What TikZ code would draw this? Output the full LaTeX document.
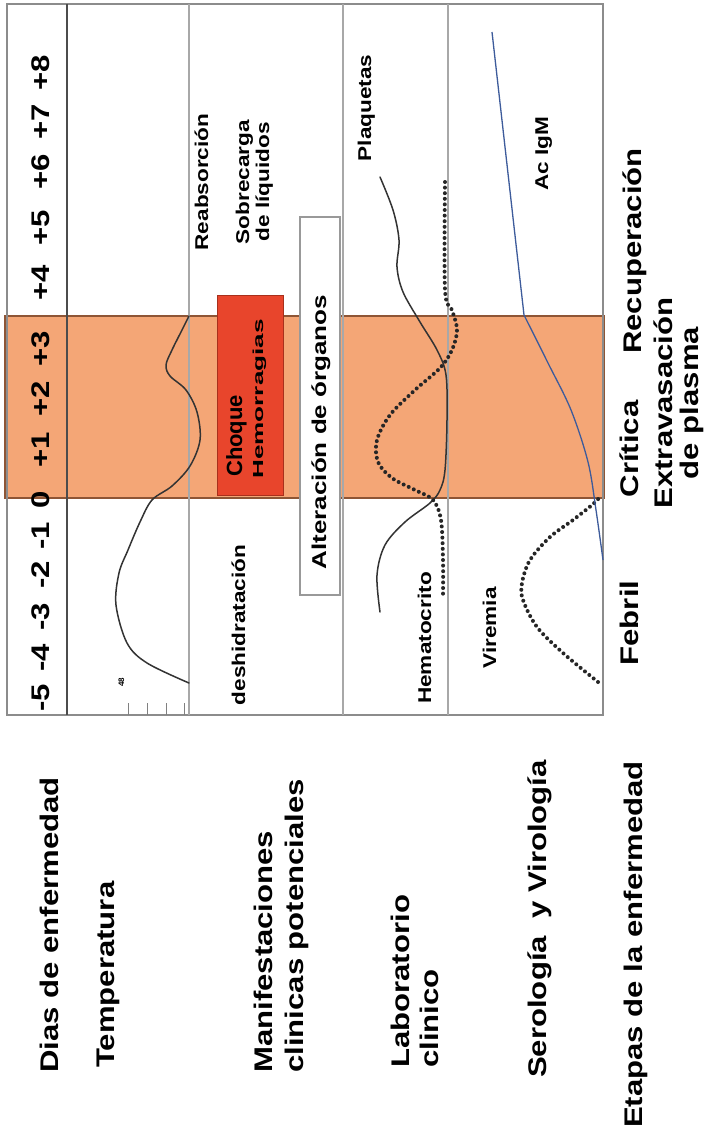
\documentclass[tikz,border=0pt]{standalone}
\usepackage{fontspec}
\setmainfont{Liberation Sans}
\newcommand{\stx}[2]{\scalebox{#1}[1]{#2}}
\definecolor{bandor}{HTML}{F4A676}
\definecolor{bandedge}{HTML}{8E5535}
\definecolor{redbox}{HTML}{E8452C}
\definecolor{rededge}{HTML}{A8301C}
\definecolor{igm}{HTML}{3D5B9B}
\definecolor{colline}{HTML}{A8A8A8}
\definecolor{curvec}{HTML}{333333}
\begin{document}
\begin{tikzpicture}[x=1pt,y=-1pt,
  big/.style={rotate=90, inner sep=0pt, font=\bfseries\fontsize{25.5}{27}\selectfont},
  small/.style={rotate=90, inner sep=0pt, font=\bfseries\fontsize{18.5}{20}\selectfont},
  colsep/.style={draw=colline, line width=1.2pt},
  curve/.style={draw=curvec, line width=1.5pt, line cap=round},
  dots/.style={draw=black!85, line width=4pt, line cap=round, dash pattern=on 0pt off 5.6pt},
  tick/.style={draw=gray, line width=1pt}]
\useasboundingbox (0,0) rectangle (705,1132);
\fill[white] (0,0) rectangle (705,1132);

% orange band
\filldraw[fill=bandor, draw=bandedge, line width=1.2pt] (5,316) rectangle (604,498);

% frame and column separators
\draw[draw=gray!90, line width=1.6pt] (7,4) rectangle (603,715);
\draw[draw=gray!60!black, line width=1.4pt] (67,4) -- (67,715);
\draw[colsep] (189,4) -- (189,715);
\draw[colsep] (343,4) -- (343,715);
\draw[colsep] (448,4) -- (448,715);

% ticks
\foreach \tx in {128,147,166,184} \draw[tick] (\tx,703) -- (\tx,715);

% boxes
\node[draw=rededge, fill=redbox, line width=1pt, minimum width=66pt, minimum height=200pt, inner sep=0pt] (shock) at (250,395) {};
\node[draw=gray!80, fill=white, line width=1.2pt, minimum width=40pt, minimum height=378pt, inner sep=0pt] (organ) at (320,406) {};

% temperature curve
\draw[curve] plot[smooth, tension=0.55] coordinates {(189,683) (147,663) (127,643) (116,605) (119,573) (128,550) (140,522) (152,500) (172,486) (190,466) (200,440) (197,412) (186,390) (170,376) (166,365) (172,350) (182,330) (189,316)};

% plaquetas
\draw[curve] plot[smooth, tension=0.55] coordinates {(380,177) (393,210) (399,240) (397,267) (403,292) (420,322) (437,350) (446,375) (447,420) (445,470) (440,490) (430,503) (405,522) (385,545) (377,575) (380,612)};

% hematocrito (dotted)
\draw[dots] plot[smooth, tension=0.55] coordinates {(445,182) (445,290) (452,310) (457,330) (452,350) (440,368) (415,390) (390,415) (377,440) (378,462) (392,478) (415,490) (433,500) (441,520) (443,560) (443,595)};

% viremia (dotted)
\draw[dots] plot[smooth, tension=0.55] coordinates {(598,682) (563,653) (537,627) (523,600) (522,583) (530,560) (550,537) (573,520) (592,505) (600,497)};

% IgM
\draw[draw=igm, line width=1.3pt] (492,32) -- plot[smooth, tension=0.55] coordinates {(524,315) (548,363) (571,410) (588,462) (596,510) (603,560)};

% day numbers
\foreach \d/\yy [count=\i] in {-5/698,-4/658,-3/617,-2/575,-1/536,0/500,+1/450,+2/399,+3/349,+4/283,+5/228,+6/172,+7/122,+8/73}
  \node[big, anchor=base] (day\i) at (49,\yy) {\stx{1.22}{\d}};

% row titles
\node[big, anchor=base west] (tdias) at (58,1073) {\stx{1.22}{Dias de enfermedad}};
\node[big, anchor=base west] (ttemp) at (114,1068) {\stx{1.22}{Temperatura}};
\node[big, anchor=base west] (tman1) at (272,1073) {\stx{1.22}{Manifestaciones}};
\node[big, anchor=base west] (tman2) at (303,1073) {\stx{1.22}{clinicas potenciales}};
\node[big, anchor=base west] (tlab1) at (409,1068) {\stx{1.22}{Laboratorio}};
\node[big, anchor=base west] (tlab2) at (438,1068) {\stx{1.22}{clinico}};
\node[big, anchor=base west] (tsero) at (546,1078) {\stx{1.22}{Serología\ \ y Virología}};
\node[big, anchor=base west] (teta) at (642,1128) {\stx{1.22}{Etapas de la enfermedad}};

% stages
\node[big, anchor=base] (sfeb) at (638,623) {\stx{1.22}{Febril}};
\node[big, anchor=base] (scri) at (638,449) {\stx{1.22}{Crítica}};
\node[big, anchor=base] (sext) at (672,403) {\stx{1.22}{Extravasación}};
\node[big, anchor=base] (spla) at (698,403) {\stx{1.22}{de plasma}};
\node[big, anchor=base] (srec) at (641,251) {\stx{1.22}{Recuperación}};

% inner labels
\node[small, anchor=base] (lreab) at (208,182) {\stx{1.22}{Reabsorción}};
\node[small, anchor=base] (lsob1) at (249,182) {\stx{1.22}{Sobrecarga}};
\node[small, anchor=base] (lsob2) at (269,182) {\stx{1.22}{de líquidos}};
\node[small, anchor=base] (ldesh) at (245,625) {\stx{1.22}{deshidratación}};
\node[small, anchor=base, font=\bfseries\fontsize{20}{22}\selectfont] (lalt) at (326,432) {\stx{1.3}{Alteración de órganos}};
\node[small, anchor=base] (lplaq) at (371,108) {\stx{1.22}{Plaquetas}};
\node[small, anchor=base] (lhem) at (431,638) {\stx{1.22}{Hematocrito}};
\node[small, anchor=base] (lvir) at (496,628) {\stx{1.22}{Viremia}};
\node[small, anchor=base] (ligm) at (548,154) {\stx{1.22}{Ac IgM}};
\node[rotate=90, inner sep=0pt, anchor=base, font=\bfseries\fontsize{8}{9}\selectfont] (l48) at (124,682) {48};

% shock box text
\node[rotate=90, inner sep=0pt, anchor=base west, font=\bfseries\fontsize{22}{24}\selectfont] (lchoq) at (242,477) {\stx{1.0}{Choque}};
\node[rotate=90, inner sep=0pt, anchor=base west, font=\bfseries\fontsize{14.5}{16}\selectfont] (lhemo) at (263,479) {\stx{1.8}{Hemorragias}};
\end{tikzpicture}
\end{document}
